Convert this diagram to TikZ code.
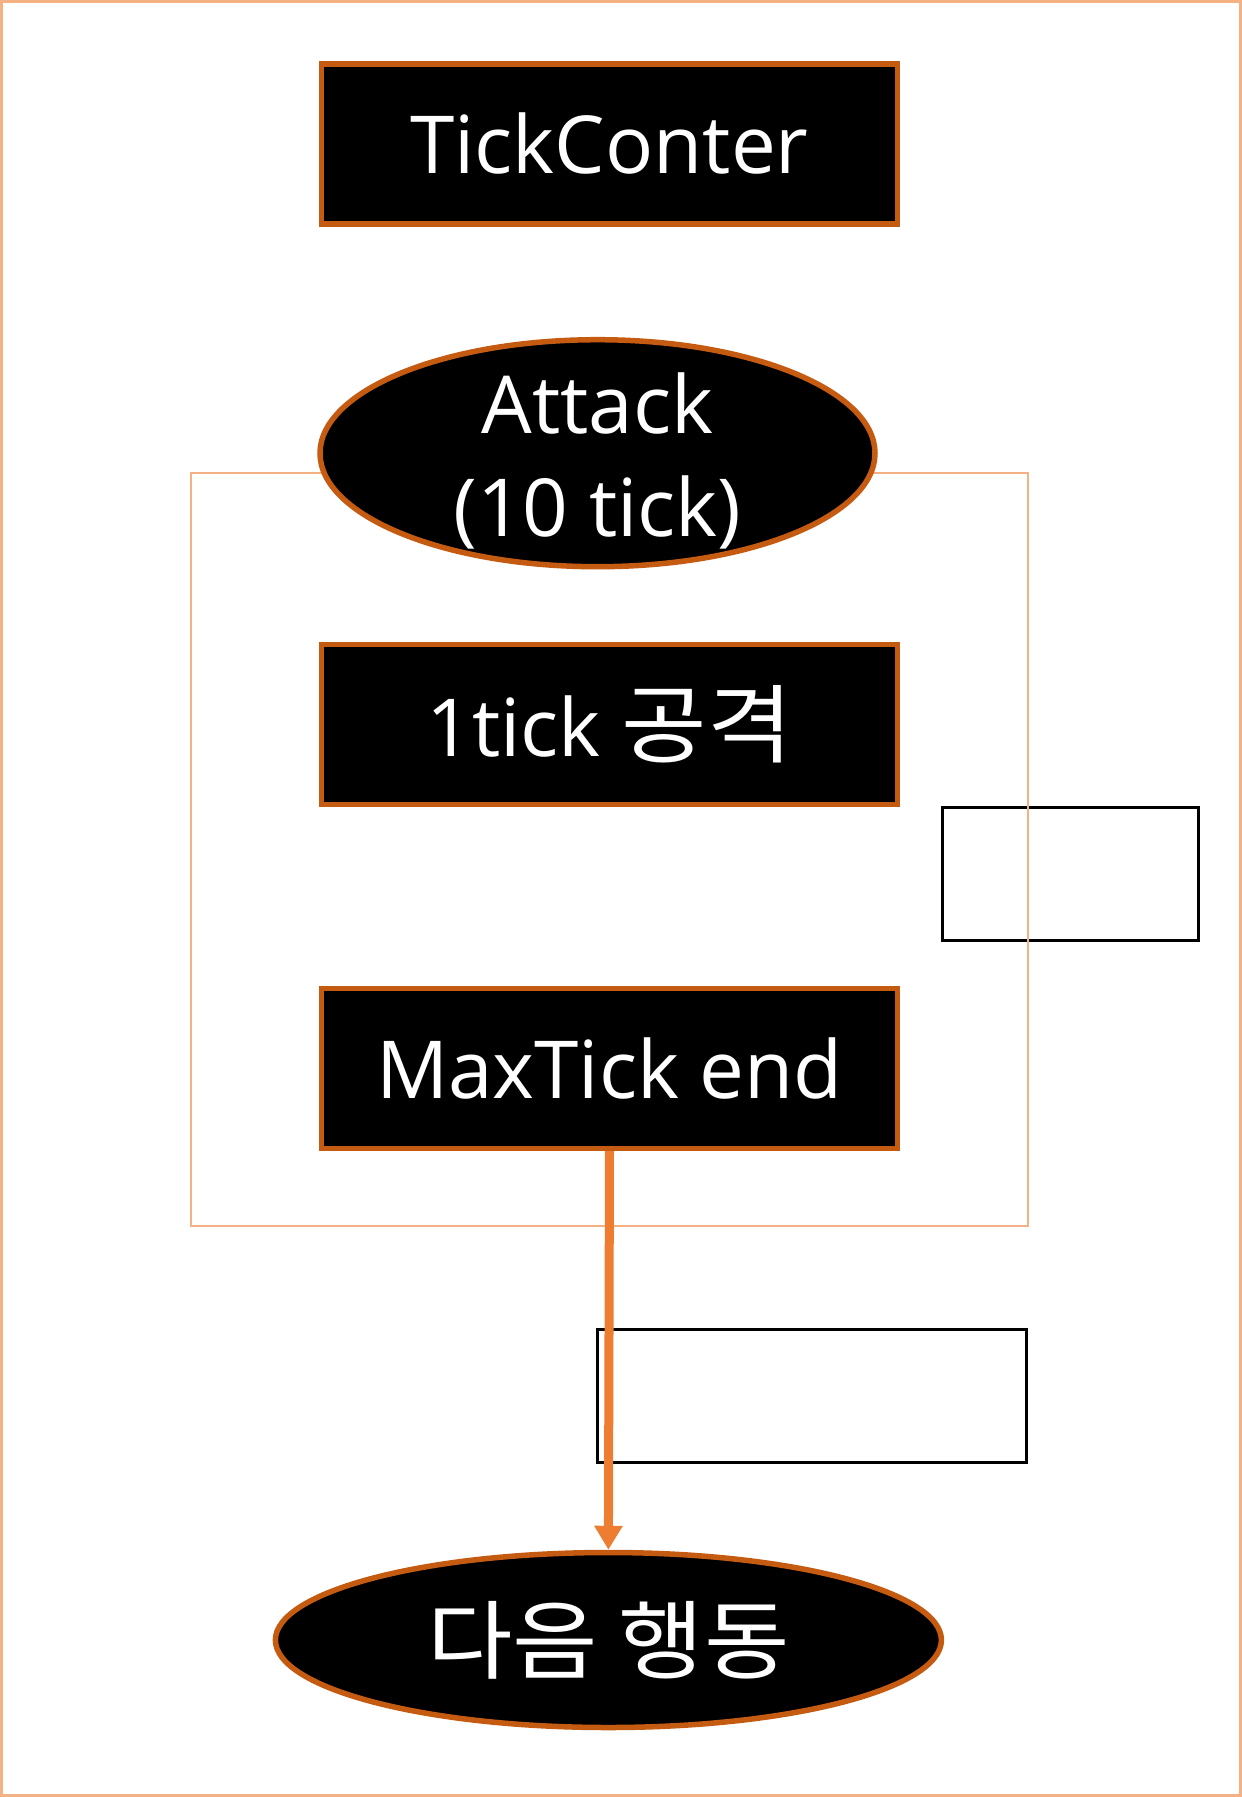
\documentclass[tikz,border=0pt]{standalone}
\usepackage{fontspec}
\setmainfont{Open Sans}
\newfontfamily\kr[FakeStretch=1.08]{Noto Sans CJK KR}
\newcommand{\krtext}[1]{{\kr\fontsize{86}{103}\selectfont #1}}
\usetikzlibrary{shapes.geometric,arrows.meta}
\definecolor{bordor}{HTML}{C55A11}
\definecolor{arrowor}{HTML}{ED7D31}
\definecolor{lightor}{HTML}{F4B183}
\tikzset{
  box/.style={draw=bordor, line width=5.5pt, fill=black, text=white, rectangle,
    minimum width=576pt, minimum height=160pt, inner sep=0pt,
    font=\fontsize{80}{103}\selectfont},
  oval/.style={draw=bordor, line width=5.5pt, fill=black, ellipse, inner sep=0pt},
  ovaltext/.style={text=white, align=center, inner sep=0pt,
    font=\fontsize{80}{103}\selectfont},
  thinbox/.style={draw=black, line width=3pt, rectangle, inner sep=0pt},
  flow/.style={draw=arrowor, line width=9pt, -{Triangle[width=27pt,length=24pt]}}
}
\begin{document}
\begin{tikzpicture}[x=1pt,y=-1pt]
\useasboundingbox (0,0) rectangle (1242,1797);
\draw[lightor, line width=3pt] (1.5,1.5) rectangle (1240.5,1795.5);
% empty helper boxes
\node[thinbox, minimum width=256pt, minimum height=133pt] (sidebox) at (1070.2,873.8) {};
\node[thinbox, minimum width=429pt, minimum height=133pt] (lowbox) at (811.7,1396.2) {};
% loop frame
\draw[lightor, line width=2pt] (191.3,473.2) rectangle (1027.8,1226.0);
% main nodes
\node[box] (tick) at (609.5,143.8) {TickConter};
\node[oval, minimum width=555pt, minimum height=227pt] (attack) at (597.5,453.2) {};
\node[ovaltext] (attacklabel) at ([yshift=-8pt]attack.center) {Attack\\(10 tick)};
\node[box] (one) at (609.5,724.7) {1tick \krtext{공격}};
\node[box] (max) at (609.5,1068.4) {MaxTick end};
\node[oval, minimum width=666pt, minimum height=175pt] (next) at (608.4,1640) {};
\node[ovaltext] (nextlabel) at (next.center) {\krtext{다음 행동}};
\draw[flow] (max.south) -- (next.north);
\end{tikzpicture}
\end{document}
